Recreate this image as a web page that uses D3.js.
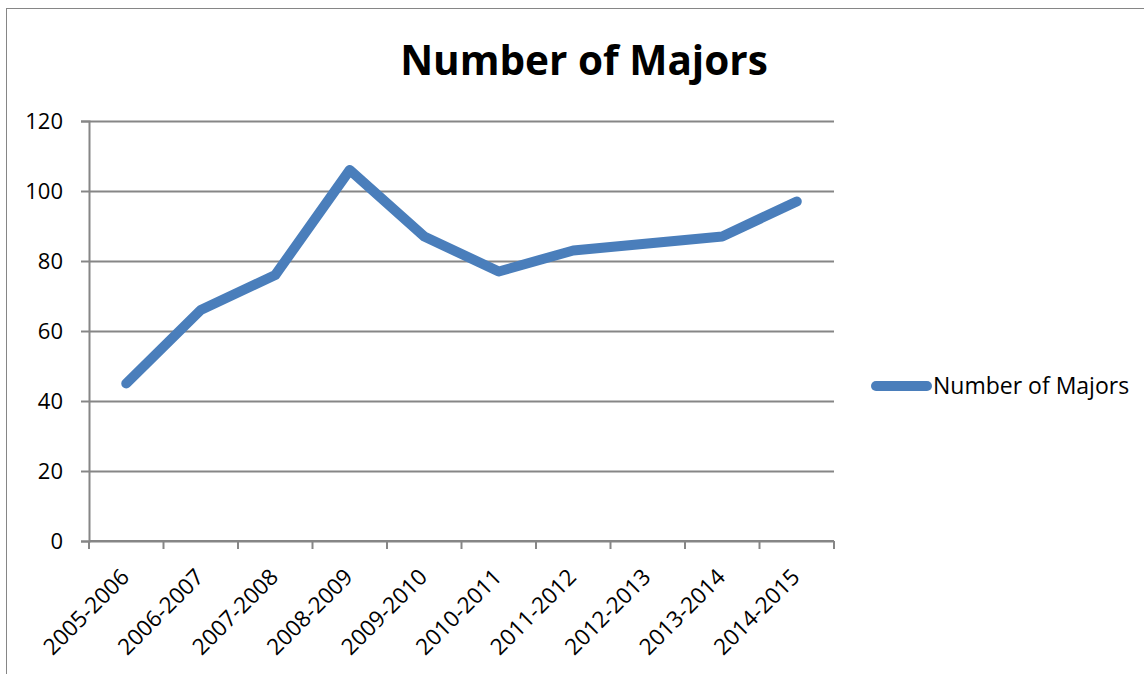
<!DOCTYPE html>
<html>
<head>
<meta charset="utf-8">
<script src="https://cdn.jsdelivr.net/npm/d3@7"></script>
<style>
  body { margin: 0; background: #fff; }
  svg { display: block; font-family: "Open Sans", Lato, sans-serif; }
</style>
</head>
<body>
<svg width="1144" height="674"></svg>
<script>
// Data
const years = ["2005-2006", "2006-2007", "2007-2008", "2008-2009", "2009-2010",
               "2010-2011", "2011-2012", "2012-2013", "2013-2014", "2014-2015"];
const majors = [45, 66, 76, 106, 87, 77, 83, 85, 87, 97];
const yTicks = [0, 20, 40, 60, 80, 100, 120];
const seriesName = "Number of Majors";

const svg = d3.select("svg");
const margin = { top: 121, left: 89, right: 834, bottom: 541 };
const axisColor = "#868686";
const lineColor = "#4a7ebb";
const fontFam = "'Open Sans', Lato, sans-serif";

// outer chart frame
svg.append("rect")
  .attr("x", 6.5).attr("y", 8.5)
  .attr("width", 1150).attr("height", 680)
  .attr("fill", "none")
  .attr("stroke", axisColor)
  .attr("stroke-width", 1);

// title
svg.append("text")
  .attr("x", 584).attr("y", 75)
  .attr("text-anchor", "middle")
  .style("font-size", "40.5px")
  .style("font-weight", "bold")
  .text(seriesName);

const x = d3.scaleBand()
  .domain(years)
  .range([margin.left, margin.right]);

const y = d3.scaleLinear()
  .domain([0, 120])
  .range([margin.bottom, margin.top]);

// gridlines + y ticks
const yAxis = svg.append("g")
  .attr("transform", `translate(${margin.left},0)`)
  .call(d3.axisLeft(y).tickValues(yTicks).tickSize(8).tickPadding(18))
  .attr("font-family", fontFam);
yAxis.select(".domain").attr("stroke", axisColor).attr("stroke-width", 2);
yAxis.selectAll(".tick line").attr("stroke", axisColor).attr("stroke-width", 2);
yAxis.selectAll(".tick text").style("font-size", "22px").attr("fill", "#000").attr("dy", "0.36em");
yAxis.selectAll(".tick").append("line")
  .attr("x1", 0).attr("x2", margin.right - margin.left)
  .attr("stroke", axisColor).attr("stroke-width", 2);

// x axis with ticks on band edges
const xg = svg.append("g");
xg.append("line")
  .attr("x1", margin.left).attr("x2", margin.right)
  .attr("y1", y(0)).attr("y2", y(0))
  .attr("stroke", axisColor).attr("stroke-width", 2);
xg.selectAll(".xt")
  .data(years.concat(["end"]))
  .join("line")
  .attr("x1", (d, i) => margin.left + i * x.step())
  .attr("x2", (d, i) => margin.left + i * x.step())
  .attr("y1", y(0)).attr("y2", y(0) + 8)
  .attr("stroke", axisColor).attr("stroke-width", 2);
xg.selectAll(".xl")
  .data(years)
  .join("text")
  .attr("transform", d => `translate(${x(d) + x.bandwidth() / 2 - 7},${y(0) + 26}) rotate(-45)`)
  .attr("text-anchor", "end")
  .attr("dy", "0.72em")
  .style("font-size", "22.5px")
  .text(d => d);

// the line
const line = d3.line()
  .x((d, i) => x(years[i]) + x.bandwidth() / 2)
  .y(d => y(d));

svg.append("path")
  .datum(majors)
  .attr("d", line)
  .attr("fill", "none")
  .attr("stroke", lineColor)
  .attr("stroke-width", 10)
  .attr("stroke-linejoin", "round")
  .attr("stroke-linecap", "round");

// legend
const lg = svg.append("g");
lg.append("line")
  .attr("x1", 876).attr("x2", 927)
  .attr("y1", 386).attr("y2", 386)
  .attr("stroke", lineColor)
  .attr("stroke-width", 10)
  .attr("stroke-linecap", "round");
lg.append("text")
  .attr("x", 933).attr("y", 394)
  .style("font-size", "23px")
  .text(seriesName);
</script>
</body>
</html>
